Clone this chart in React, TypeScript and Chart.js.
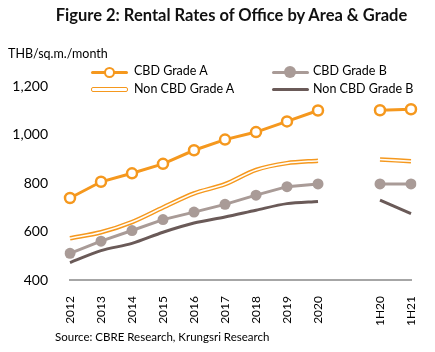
import React, { useEffect, useRef } from "react";
import { Chart, registerables } from "chart.js";

Chart.register(...registerables);

const categories = ["2012", "2013", "2014", "2015", "2016", "2017", "2018", "2019", "2020", "", "1H20", "1H21"];
const cbdGradeA = [738, 805, 840, 879, 935, 979, 1010, 1054, 1099, null, 1100, 1104];
const cbdGradeB = [510, 560, 604, 649, 680, 712, 750, 785, 796, null, 796, 796];
const nonCbdGradeA = [572, 597, 639, 699, 757, 795, 854, 882, 892, null, 897, 890];
const nonCbdGradeB = [472, 521, 551, 597, 635, 660, 688, 715, 724, null, 729, 674];
const yTicks = [400, 600, 800, 1000, 1200];

const ORANGE = "#F5981E";
const GRADE_B = "#A99B97";
const NON_B = "#6A5A58";
const FONT = "Lato, 'Open Sans', sans-serif";

export default function App() {
  const ref = useRef<HTMLCanvasElement>(null);

  useEffect(() => {
    document.body.style.margin = "0";
    const ctx = ref.current!;
    const chart = new Chart(ctx, {
      type: "line",
      data: {
        labels: categories,
        datasets: [
          {
            label: "Non CBD Grade A inner",
            data: nonCbdGradeA,
            borderColor: "#FFFDF8",
            borderWidth: 1.6,
            pointRadius: 0,
            tension: 0.3,
            spanGaps: false,
            order: 0,
          },
          {
            label: "Non CBD Grade A",
            data: nonCbdGradeA,
            borderColor: ORANGE,
            borderWidth: 4.5,
            pointRadius: 0,
            tension: 0.3,
            spanGaps: false,
            order: 1,
          },
          {
            label: "Non CBD Grade B",
            data: nonCbdGradeB,
            borderColor: NON_B,
            borderWidth: 3,
            pointRadius: 0,
            tension: 0.3,
            spanGaps: false,
            order: 2,
          },
          {
            label: "CBD Grade B",
            data: cbdGradeB,
            borderColor: GRADE_B,
            backgroundColor: GRADE_B,
            borderWidth: 3,
            pointRadius: 5.5,
            pointBorderWidth: 0,
            pointBackgroundColor: GRADE_B,
            spanGaps: false,
            order: 3,
          },
          {
            label: "CBD Grade A",
            data: cbdGradeA,
            borderColor: ORANGE,
            borderWidth: 3,
            pointRadius: 5,
            pointBorderWidth: 2.5,
            pointBackgroundColor: "#FFFFFF",
            pointBorderColor: ORANGE,
            spanGaps: false,
            order: -1,
          },
        ],
      },
      options: {
        animation: false,
        responsive: false,
        maintainAspectRatio: false,
        layout: { padding: { top: 86, left: 0, right: 24, bottom: 27 } },
        plugins: { legend: { display: false }, tooltip: { enabled: false }, title: { display: false } },
        scales: {
          x: {
            grid: { display: false },
            border: { display: true, color: "#A6A6A6", width: 2 },
            ticks: {
              minRotation: 90,
              maxRotation: 90,
              autoSkip: false,
              padding: 8,
              color: "#000000",
              font: { family: FONT, size: 12 },
            },
            afterFit: (s: any) => {
              s.height = 45;
            },
          },
          y: {
            min: 400,
            max: 1200,
            grid: { display: false },
            border: { display: false },
            afterBuildTicks: (s: any) => {
              s.ticks = yTicks.map((v) => ({ value: v }));
            },
            ticks: {
              padding: 14,
              color: "#000000",
              font: { family: FONT, size: 14 },
              callback: (v: any) => Number(v).toLocaleString("en-US"),
            },
            afterFit: (s: any) => {
              s.width = 70;
            },
          },
        },
      },
    });
    return () => chart.destroy();
  }, []);

  const legendText: React.CSSProperties = {
    position: "absolute",
    fontFamily: FONT,
    fontSize: 12.5,
    color: "#000",
    lineHeight: "16px",
    whiteSpace: "nowrap",
  };

  return (
    <div style={{ position: "relative", width: 435, height: 352, background: "#fff", overflow: "hidden" }}>
      <canvas ref={ref} width={435} height={352} style={{ position: "absolute", left: 0, top: 0 }} />
      <div
        style={{
          position: "absolute",
          left: 0,
          width: 463,
          top: 5,
          textAlign: "center",
          fontFamily: FONT,
          fontWeight: 700,
          fontSize: 16.5,
          color: "#111",
        }}
      >
        Figure 2: Rental Rates of Office by Area &amp; Grade
      </div>
      <div style={{ ...legendText, left: 8, top: 46, fontSize: 12.5 }}>THB/sq.m./month</div>

      {/* Legend: CBD Grade A */}
      <div style={{ position: "absolute", left: 91, top: 70.5, width: 37, height: 3, background: ORANGE, borderRadius: 2 }} />
      <div
        style={{
          position: "absolute",
          left: 104,
          top: 66.5,
          width: 7,
          height: 7,
          borderRadius: "50%",
          border: `2.5px solid ${ORANGE}`,
          background: "#fff",
        }}
      />
      <div style={{ ...legendText, left: 134, top: 63 }}>CBD Grade A</div>

      {/* Legend: CBD Grade B */}
      <div style={{ position: "absolute", left: 272, top: 70.5, width: 37, height: 3, background: GRADE_B, borderRadius: 2 }} />
      <div
        style={{
          position: "absolute",
          left: 284,
          top: 66,
          width: 12,
          height: 12,
          borderRadius: "50%",
          background: GRADE_B,
        }}
      />
      <div style={{ ...legendText, left: 313, top: 63 }}>CBD Grade B</div>

      {/* Legend: Non CBD Grade A */}
      <div
        style={{
          position: "absolute",
          left: 91,
          top: 87,
          width: 37,
          height: 5,
          boxSizing: "border-box",
          border: `1.5px solid ${ORANGE}`,
          borderRadius: 2,
          background: "#fff",
        }}
      />
      <div style={{ ...legendText, left: 134, top: 81 }}>Non CBD Grade A</div>

      {/* Legend: Non CBD Grade B */}
      <div style={{ position: "absolute", left: 272, top: 88, width: 37, height: 3, background: NON_B, borderRadius: 2 }} />
      <div style={{ ...legendText, left: 313, top: 81 }}>Non CBD Grade B</div>

      <div style={{ ...legendText, left: 55, top: 329, fontSize: 11.5 }}>Source: CBRE Research, Krungsri Research</div>
    </div>
  );
}
